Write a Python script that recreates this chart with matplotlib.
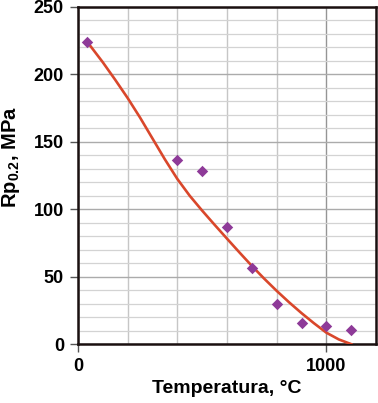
import matplotlib
matplotlib.use("Agg")
import matplotlib.pyplot as plt
from matplotlib.ticker import MultipleLocator

plt.rcParams['font.family'] = ['Liberation Sans', 'DejaVu Sans']
plt.rcParams['font.weight'] = 'bold'
plt.rcParams['mathtext.fontset'] = 'custom'
plt.rcParams['mathtext.rm'] = 'Liberation Sans:bold'
plt.rcParams['mathtext.bf'] = 'Liberation Sans:bold'
plt.rcParams['mathtext.it'] = 'Liberation Sans:bold'

# measured points
temp_pts = [35, 400, 500, 600, 700, 800, 900, 1000, 1100]
rp_pts = [224, 136.5, 128.5, 87, 56.5, 30, 15.5, 13.5, 10.5]

# trendline
temp_fit = [40, 100, 150, 200, 250, 300, 350, 400, 450, 500, 550, 600, 650,
            700, 750, 800, 850, 900, 950, 1000, 1050, 1100]
rp_fit = [223.5, 209, 196, 182.5, 168, 152.5, 137, 122.5, 110, 99, 88.5, 78.2,
          68, 58, 48.5, 39.5, 31, 23, 15.5, 8.5, 3.5, 0]

x_ticks = [0, 1000]
y_ticks = [0, 50, 100, 150, 200, 250]

fig = plt.figure(figsize=(3.78, 4.03), dpi=100)
ax = fig.add_axes([0.206, 0.146, 0.789, 0.837])

ax.set_xlim(0, 1200)
ax.set_ylim(0, 250)
ax.xaxis.set_minor_locator(MultipleLocator(200))
ax.yaxis.set_minor_locator(MultipleLocator(10))
ax.set_xticks(x_ticks)
ax.set_yticks(y_ticks)

ax.grid(which='major', axis='y', color='#ababab', linewidth=1.0)
ax.grid(which='minor', axis='y', color='#d3d3d3', linewidth=0.9)
ax.grid(which='major', axis='x', color='#959595', linewidth=1.0)
ax.grid(which='minor', axis='x', color='#c6c6c6', linewidth=1.0)
ax.set_axisbelow(True)

ax.plot(temp_fit, rp_fit, color='#d9472b', linewidth=1.9, zorder=3,
        solid_joinstyle='round')
ax.scatter(temp_pts, rp_pts, marker='D', s=34, color='#8e3a98', zorder=4,
           linewidths=0)

for s in ax.spines.values():
    s.set_linewidth(1.8)
    s.set_color('#1a1010')

ax.tick_params(which='major', direction='out', length=6, width=1,
               labelsize=13, pad=4, color='#555555')
ax.tick_params(which='minor', length=0)
for lab in ax.get_xticklabels() + ax.get_yticklabels():
    lab.set_fontweight('bold')

ax.set_xlabel('Temperatura, °C', fontsize=14, fontweight='bold')
ax.xaxis.set_label_coords(0.5, -0.105)
ax.set_ylabel(r'Rp$_{0.2}$, MPa', fontsize=14.5, fontweight='bold',
              va='center', ha='center')
ax.yaxis.set_label_coords(-0.225, 0.555)

fig.savefig('out.png', dpi=100, facecolor='white')
